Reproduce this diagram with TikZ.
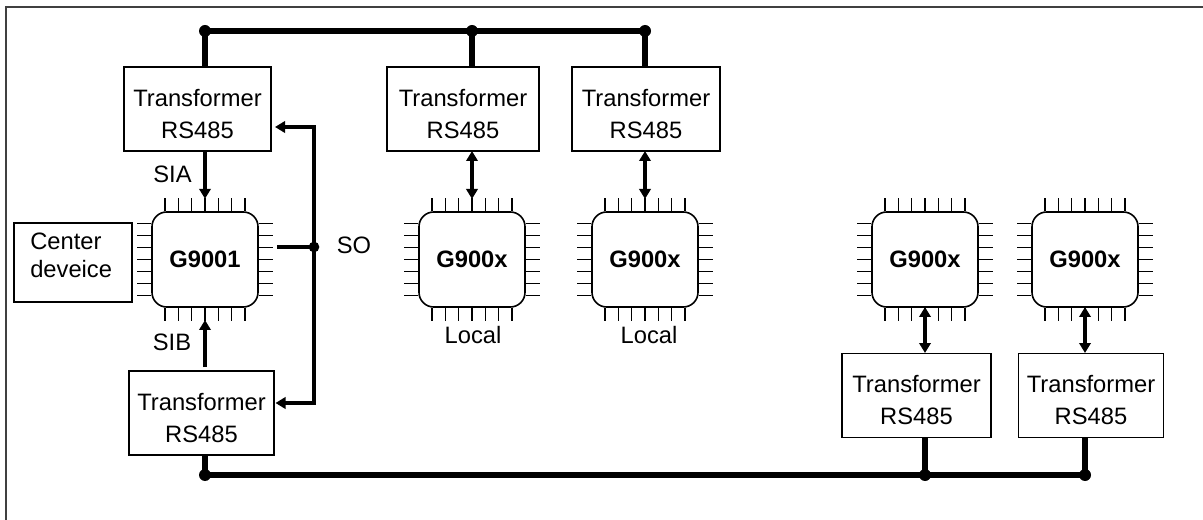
\documentclass[tikz,border=0pt]{standalone}
\usepackage{fontspec}
\setmainfont{Liberation Sans}
\usetikzlibrary{arrows.meta,calc}
\tikzset{
  x=0.75pt,y=-0.75pt,
  frame/.style={draw=black!75,line width=1.4pt},
  tbox/.style={draw=black,line width=1.2pt,align=center,inner sep=0pt,font=\fontsize{17.8}{24}\selectfont},
  chip/.style={draw=black,line width=1.2pt,rounded corners=11pt,minimum width=79.5pt,minimum height=71.25pt,inner sep=0pt,font=\bfseries\fontsize{17.8}{24}\selectfont},
  lbl/.style={inner sep=0pt,font=\fontsize{17.8}{24}\selectfont},
  pin/.style={line width=1.05pt},
  bus/.style={line width=4.1pt},
  sig/.style={line width=2.8pt},
  arr/.style={sig,-{Triangle[length=7.5pt,width=8.5pt]}},
  arrb/.style={sig,{Triangle[length=7.5pt,width=8.5pt]}-{Triangle[length=7.5pt,width=8.5pt]}},
  dot/.style={circle,fill=black,inner sep=0pt,minimum size=9pt},
}
\newcommand{\chipat}[4]{% name, x, y, label
  \node[chip] (#1) at (#2,#3) {#4};
  \foreach \k in {-3,...,3}{
    \draw[pin] ($(#1.north)+(\k*13.35,0)$) -- ++(0,-13);
    \draw[pin] ($(#1.south)+(\k*13.35,0)$) -- ++(0,13);
    \draw[pin] ($(#1.west)+(0,\k*12)$) -- ++(-14,0);
    \draw[pin] ($(#1.east)+(0,\k*12)$) -- ++(14,0);
  }
}
\newcommand{\tf}{Transformer\\RS485}
\begin{document}
\begin{tikzpicture}
\useasboundingbox (0,0) rectangle (1203,520);
\fill[white] (0,0) rectangle (1203,520);
\draw[frame] (6,520) -- (6,7) -- (1203,7);
\node[tbox,minimum width=110pt,minimum height=63pt] (ta) at (197.5,109) {\rule{0pt}{20pt}\tf};
\node[tbox,minimum width=114pt,minimum height=63pt] (tb) at (463,109) {\rule{0pt}{20pt}\tf};
\node[tbox,minimum width=111pt,minimum height=63pt] (tc) at (646,109) {\rule{0pt}{20pt}\tf};
\node[tbox,minimum width=109pt,minimum height=63pt] (tl) at (201.5,413) {\rule{0pt}{20pt}\tf};
\node[tbox,minimum width=112pt,minimum height=63pt] (td) at (916.5,395.5) {\rule{0pt}{20pt}\tf};
\node[tbox,minimum width=109pt,minimum height=63pt] (te) at (1091,395.5) {\rule{0pt}{20pt}\tf};
\chipat{c1}{205}{259.5}{G9001}
\chipat{c2}{472}{259.5}{G900x}
\chipat{c3}{645}{259.5}{G900x}
\chipat{c4}{925}{259.5}{G900x}
\chipat{c5}{1085}{259.5}{G900x}
\node[tbox,minimum width=88.5pt,minimum height=59pt,line width=1.5pt] (cd) at (73,262.5) {};
\node[lbl,anchor=west] (cdt1) at (30,241) {Center};
\node[lbl,anchor=west] (cdt2) at (30,269) {deveice};
\coordinate (bt0) at (205,31); \coordinate (bt1) at (472,31); \coordinate (bt2) at (645,31);
\coordinate (bb0) at (205,475); \coordinate (bb1) at (925,475); \coordinate (bb2) at (1085,475);
\draw[bus] (bt0) -- (bt1) -- (bt2);
\draw[bus] (bb0) -- (bb1) -- (bb2);
\draw[bus] (bt0) -- (bt0 |- ta.north);
\draw[bus] (bt1) -- (bt1 |- tb.north);
\draw[bus] (bt2) -- (bt2 |- tc.north);
\draw[bus] (bb0) -- (bb0 |- tl.south);
\draw[bus] (bb1) -- (bb1 |- td.south);
\draw[bus] (bb2) -- (bb2 |- te.south);
\foreach \p in {bt0,bt1,bt2,bb0,bb1,bb2}{\node[dot] (d\p) at (\p) {};}
\draw[arr] (c1.north |- ta.south) -- ++(0,47);
\coordinate (sibs) at (205,367);
\draw[arr] (sibs) -- ++(0,-47);
\coordinate (so) at (314,247);
\coordinate (soe) at (277,247);
\coordinate (sot) at (314,127);
\coordinate (sob) at (314,403);
\draw[sig] (soe) -- (so);
\draw[arr,line join=miter] (so) -- (sot) -- (275,127);
\draw[arr,line join=miter] (so) -- (sob) -- (275.5,403);
\node[dot,minimum size=8pt] (sod) at (so) {};
\draw[arrb] (472,151) -- (472,199);
\draw[arrb] (645,151) -- (645,199);
\draw[arrb] (925,307) -- (925,353);
\draw[arrb] (1085,307) -- (1085,353);
\node[lbl] (sia) at (172.5,174) {SIA};
\node[lbl] (sib) at (172,342) {SIB};
\node[lbl] (sol) at (354,245) {SO};
\node[lbl] (l1) at (473,335) {Local};
\node[lbl] (l2) at (649,335) {Local};
\end{tikzpicture}
\end{document}
